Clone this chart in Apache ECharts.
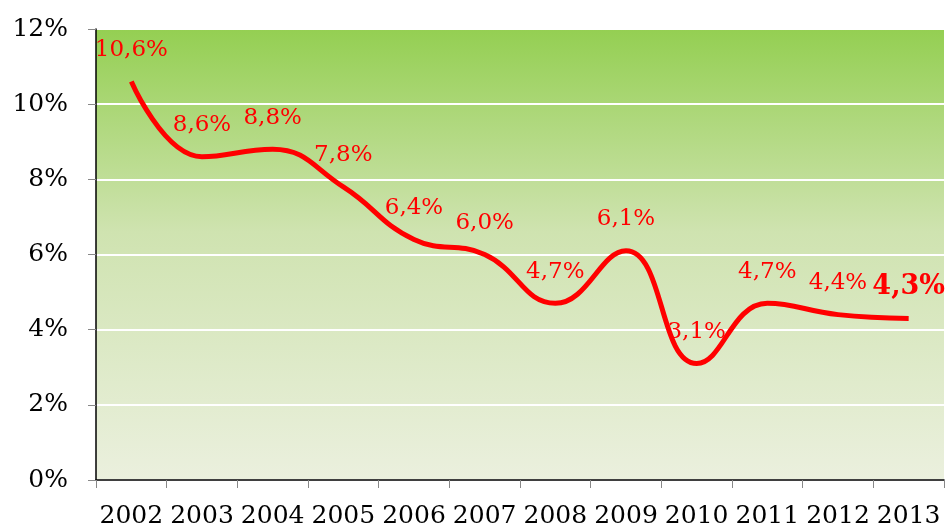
<!DOCTYPE html>
<html>
<head>
<meta charset="utf-8">
<script src="https://cdn.jsdelivr.net/npm/echarts@6/dist/echarts.min.js"></script>
<style>
  html, body { margin: 0; padding: 0; background: #fff; }
  #chart { width: 948px; height: 529px; }
</style>
</head>
<body>
<div id="chart"></div>
<script>
// data
var years = ['2002', '2003', '2004', '2005', '2006', '2007', '2008', '2009', '2010', '2011', '2012', '2013'];
var rates = [10.6, 8.6, 8.8, 7.8, 6.4, 6.0, 4.7, 6.1, 3.1, 4.7, 4.4, 4.3];
var yTicks = [0, 2, 4, 6, 8, 10, 12];

var FONT = '"DejaVu Serif", "Liberation Serif", serif';

function fmt(v) {
  return v.toFixed(1).replace('.', ',') + '%';
}

// last point gets a bigger bold label
var seriesData = rates.map(function (v, i) {
  if (i === rates.length - 1) {
    return { value: v, label: { fontSize: 27, fontWeight: 'bold', offset: [0, 2] } };
  }
  return v;
});

var myChart = echarts.init(document.getElementById('chart'));
myChart.setOption({
  animation: false,
  grid: {
    left: 96,
    right: 4,
    top: 29,
    bottom: 47,
    show: true,
    borderWidth: 0,
    backgroundColor: new echarts.graphic.LinearGradient(0, 0, 0, 1, [
      { offset: 0, color: '#94cf52' },
      { offset: 0.45, color: '#cfe3b0' },
      { offset: 1, color: '#ebf0de' }
    ])
  },
  xAxis: {
    type: 'category',
    data: years,
    boundaryGap: true,
    axisLine: { lineStyle: { color: '#000', width: 1.5 } },
    axisTick: { show: true, length: 8, interval: 0, lineStyle: { color: '#888' } },
    axisLabel: { color: '#000', fontFamily: FONT, fontSize: 25, margin: 24, interval: 0 }
  },
  yAxis: {
    type: 'value',
    min: yTicks[0],
    max: yTicks[yTicks.length - 1],
    interval: 2,
    axisLine: { show: true, lineStyle: { color: '#000', width: 1.5 } },
    axisTick: { show: true, length: 8, lineStyle: { color: '#888' } },
    axisLabel: {
      color: '#000', fontFamily: FONT, fontSize: 25, margin: 28,
      formatter: function (v) { return v + '%'; }
    },
    splitLine: { show: true, lineStyle: { color: '#fff', width: 2 } }
  },
  series: [{
    type: 'line',
    data: seriesData,
    smooth: 0.45,
    showSymbol: true,
    symbolSize: 0,
    lineStyle: { color: '#ff0000', width: 5 },
    itemStyle: { color: '#ff0000' },
    label: {
      show: true,
      position: 'top',
      distance: 20,
      color: '#ff0000',
      fontFamily: FONT,
      fontSize: 23,
      formatter: function (p) { return fmt(p.value); }
    }
  }]
});
</script>
</body>
</html>
